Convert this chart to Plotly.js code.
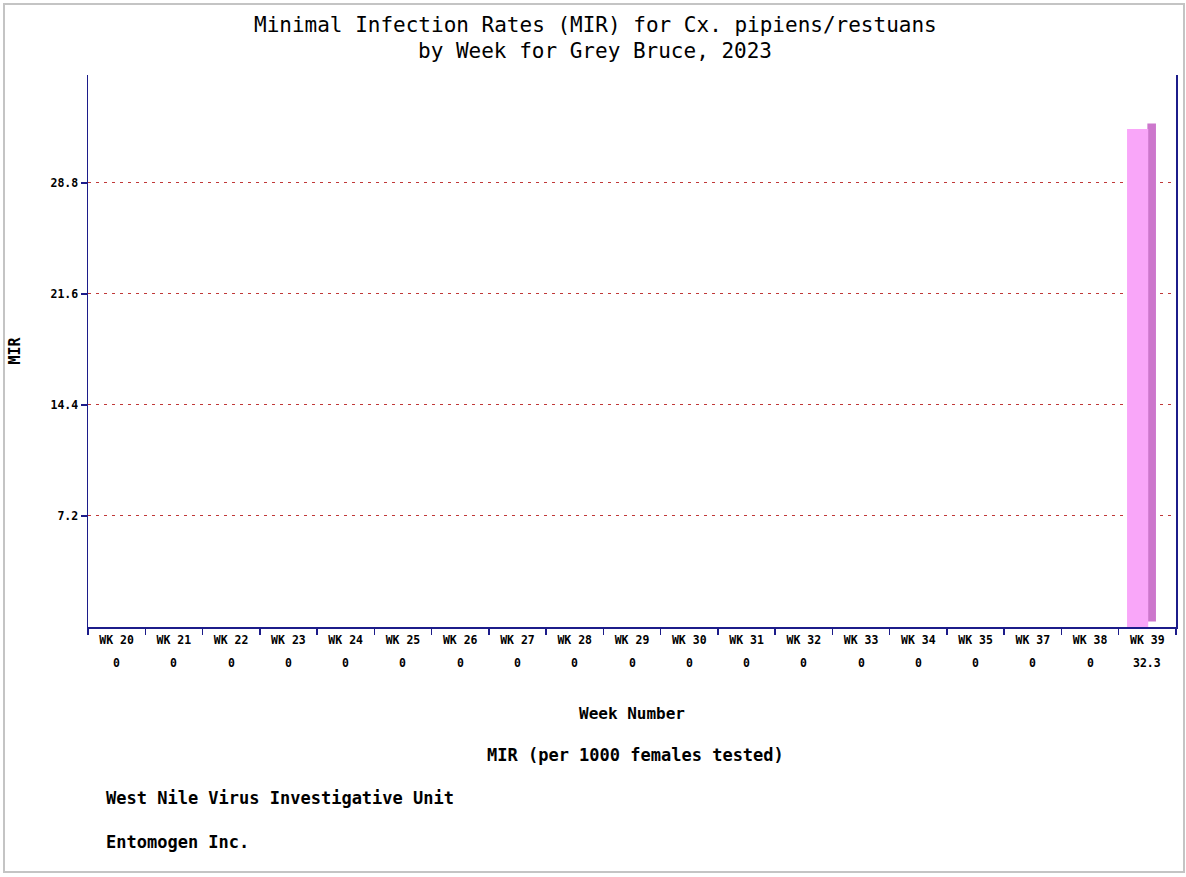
<!DOCTYPE html>
<html>
<head>
<meta charset="utf-8">
<script src="https://cdn.plot.ly/plotly-3.0.1.min.js"></script>
<style>
  html, body { margin: 0; padding: 0; background: #fff; }
  #wrap { position: relative; width: 1186px; height: 877px; }
  #chart { width: 1186px; height: 877px; }
  #frame { position: absolute; left: 3px; top: 3px; width: 1178px; height: 866px;
           border: 2px solid #c4c4c4; pointer-events: none; }
</style>
</head>
<body>
<div id="wrap"><div id="chart"></div><div id="frame"></div></div>
<script>
const weeks = ["WK 20","WK 21","WK 22","WK 23","WK 24","WK 25","WK 26","WK 27","WK 28","WK 29",
               "WK 30","WK 31","WK 32","WK 33","WK 34","WK 35","WK 37","WK 38","WK 39"];
const mirValues = [0,0,0,0,0,0,0,0,0,0,0,0,0,0,0,0,0,0,32.3];
const valueLabels = ["0","0","0","0","0","0","0","0","0","0","0","0","0","0","0","0","0","0","32.3"];
const yTicks = [7.2, 14.4, 21.6, 28.8];
const titleLines = ["Minimal Infection Rates (MIR) for Cx. pipiens/restuans", "by Week for Grey Bruce, 2023"];

const mono = "'DejaVu Sans Mono', 'Liberation Mono', monospace";
const navy = "#1c1c8a";

const sideTrace = {
  type: "bar", x: weeks, y: mirValues,
  base: mirValues.map(() => 0.35),
  width: 0.15, offset: 0.0,
  marker: { color: "#cc77cc", line: { width: 0 } },
  hoverinfo: "skip", showlegend: false
};
const frontTrace = {
  type: "bar", x: weeks, y: mirValues,
  width: 0.37, offset: -0.355,
  marker: { color: "#f9a6f9", line: { width: 0 } },
  showlegend: false
};

const py = (pix) => (627 - pix) / 552;
const px = (pix) => (pix - 88) / 1088;

const valueAnnotations = weeks.map((w, i) => ({
  text: "<b>" + valueLabels[i] + "</b>", xref: "x", yref: "paper", x: w, y: py(663),
  xanchor: "center", yanchor: "middle", showarrow: false,
  font: { family: mono, size: 11.5, color: "#000" }
}));

const layout = {
  width: 1186, height: 877,
  margin: { l: 88, r: 10, t: 75, b: 250 },
  paper_bgcolor: "#ffffff", plot_bgcolor: "#ffffff",
  barmode: "overlay",
  xaxis: {
    type: "category",
    tickmode: "array", tickvals: weeks, ticktext: weeks.map(w => "<b>" + w + "</b>"),
    tickson: "boundaries",
    ticks: "outside", ticklen: 6, tickcolor: navy, tickwidth: 1.5,
    ticklabelstandoff: 2,
    showline: true, linecolor: navy, linewidth: 1.5,
    showgrid: false, zeroline: false,
    tickfont: { family: mono, size: 11.5, color: "#000" },
    title: { text: "<b>Week Number</b>", standoff: 61, font: { family: mono, size: 16, color: "#000" } },
    fixedrange: true
  },
  yaxis: {
    range: [0, 35.8],
    tickmode: "array", tickvals: yTicks, ticktext: yTicks.map(v => "<b>" + v.toFixed(1) + "</b>"),
    ticks: "outside", ticklen: 6, tickcolor: navy, tickwidth: 1.5,
    showline: true, linecolor: navy, linewidth: 1.5, mirror: true,
    showgrid: true, gridcolor: "#c03838", griddash: "3px,5px", gridwidth: 1,
    zeroline: false,
    tickfont: { family: mono, size: 11.5, color: "#000" },
    title: { text: "<b>MIR</b>", standoff: 26, font: { family: mono, size: 15, color: "#000" } },
    fixedrange: true
  },
  annotations: [
    { text: titleLines[0], xref: "paper", yref: "paper", x: px(595), y: py(25),
      xanchor: "center", yanchor: "middle", showarrow: false,
      font: { family: mono, size: 21, color: "#000" } },
    { text: titleLines[1], xref: "paper", yref: "paper", x: px(595), y: py(51),
      xanchor: "center", yanchor: "middle", showarrow: false,
      font: { family: mono, size: 21, color: "#000" } },
    { text: "<b>MIR (per 1000 females tested)</b>", xref: "paper", yref: "paper",
      x: px(635), y: py(755), xanchor: "center", yanchor: "middle", showarrow: false,
      font: { family: mono, size: 17, color: "#000" } },
    { text: "<b>West Nile Virus Investigative Unit</b>", xref: "paper", yref: "paper",
      x: px(104), y: py(798), xanchor: "left", yanchor: "middle", showarrow: false,
      font: { family: mono, size: 17, color: "#000" } },
    { text: "<b>Entomogen Inc.</b>", xref: "paper", yref: "paper",
      x: px(104), y: py(842), xanchor: "left", yanchor: "middle", showarrow: false,
      font: { family: mono, size: 17, color: "#000" } }
  ].concat(valueAnnotations)
};

Plotly.newPlot("chart", [sideTrace, frontTrace], layout, { displayModeBar: false, staticPlot: true });
</script>
</body>
</html>
